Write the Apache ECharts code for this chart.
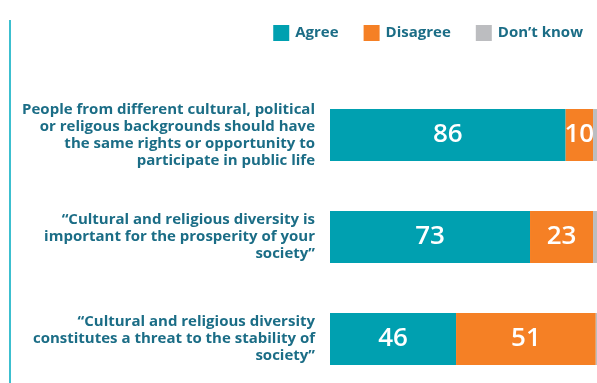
<!DOCTYPE html>
<html>
<head>
<meta charset="utf-8">
<script src="https://cdn.jsdelivr.net/npm/echarts@6/dist/echarts.min.js"></script>
<style>html,body{margin:0;padding:0;background:#fff;}#c{width:597px;height:383px;}</style>
</head>
<body>
<div id="c"></div>
<script>
const categories = [
  "People from different cultural, political\nor religous backgrounds should have\nthe same rights or opportunity to\nparticipate in public life",
  "\u201cCultural and religious diversity is\nimportant for the prosperity of your\nsociety\u201d",
  "\u201cCultural and religious diversity\nconstitutes a threat to the stability of\nsociety\u201d"
];
const agree = [86, 73, 46];
const disagree = [10, 23, 51];
const dontKnow = [4, 4, 3];
const seriesNames = ["Agree", "Disagree", "Don\u2019t know"];

const FONT = "'Open Sans', 'Noto Sans', sans-serif";
const TXT = "#1b6d86";
const colors = ["#00a0b0", "#f58025", "#bcbdc0"];

const chart = echarts.init(document.getElementById('c'), null, {renderer: 'canvas'});
function mk(name, data, color, showLabel) {
  return {
    name: name, type: 'bar', stack: 'total', data: data, barWidth: 52,
    itemStyle: {color: color},
    label: {show: showLabel, position: 'inside', color: '#fff', fontFamily: FONT, fontSize: 26, fontWeight: 600},
    emphasis: {disabled: true}
  };
}
chart.setOption({
  animation: false,
  color: colors,
  legend: {
    right: 9, top: 20, itemWidth: 16, itemHeight: 16, itemGap: 25, icon: 'rect',
    textStyle: {fontFamily: FONT, fontSize: 15, fontWeight: 'bold', color: TXT, padding: [0,0,0,1]},
    data: seriesNames
  },
  grid: {left: 330, top: 84, width: 274, height: 306, containLabel: false, outerBoundsMode: 'none'},
  xAxis: {type: 'value', min: 0, max: 100, show: false},
  yAxis: {
    type: 'category', inverse: true, data: categories,
    axisLine: {show: false}, axisTick: {show: false},
    axisLabel: {fontFamily: FONT, fontSize: 15, fontWeight: 'bold', color: TXT, lineHeight: 17, align: 'right', margin: 15}
  },
  graphic: [{type: 'rect', shape: {x: 9, y: 20, width: 2, height: 363}, style: {fill: '#3cbfcf'}}],
  series: [
    mk(seriesNames[0], agree, colors[0], true),
    mk(seriesNames[1], disagree, colors[1], true),
    mk(seriesNames[2], dontKnow, colors[2], false)
  ]
});
</script>
</body>
</html>
